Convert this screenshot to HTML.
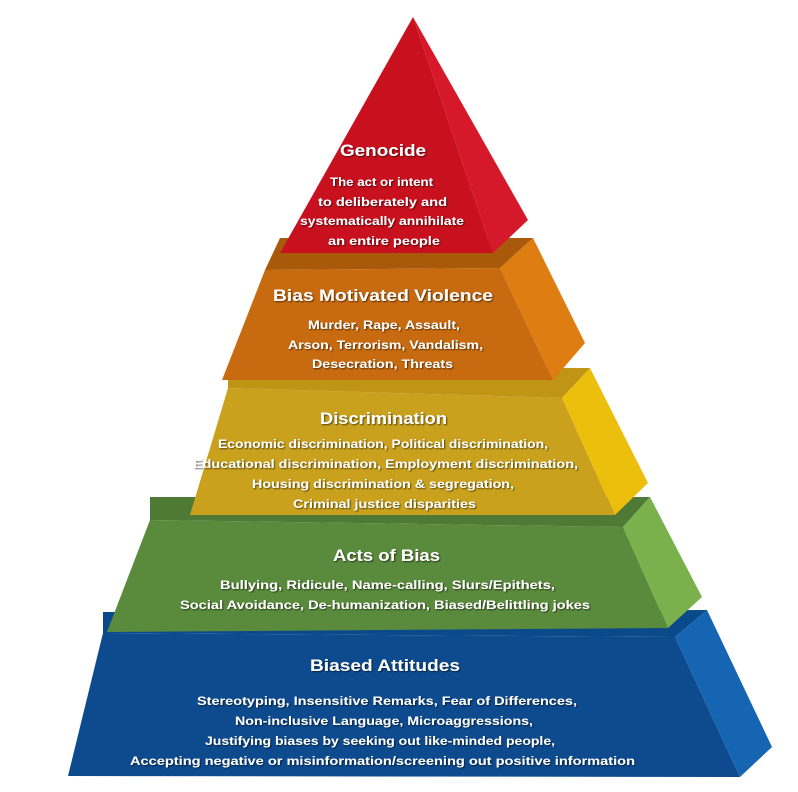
<!DOCTYPE html>
<html><head><meta charset="utf-8"><style>
html,body{margin:0;padding:0;background:#fff;}
svg{display:block;}
text{font-family:"Liberation Sans",sans-serif;font-weight:bold;fill:#fff;}
.t{font-size:17px;}
.d{font-size:12px;}
</style></head><body>
<svg width="798" height="792" viewBox="0 0 798 792">
<defs>
<filter id="s" x="-10%" y="-30%" width="120%" height="160%"><feDropShadow dx="1" dy="1" stdDeviation="0.8" flood-color="#000" flood-opacity="0.6"/></filter>
</defs>
<polygon points="103,612 707,610 675,637 103,633" fill="#0a4a8a"/>
<polygon points="103,633 675,637 740,777 68,776" fill="#0d4b8e"/>
<polygon points="675,637 707,610 772,747 740,777" fill="#1565b3"/>
<polygon points="150,497 650,497 623,527 150,520" fill="#4f7a35"/>
<polygon points="150,520 623,527 668,628 107,632" fill="#5a8a3c"/>
<polygon points="623,527 650,497 702,597 668,628" fill="#7bb14c"/>
<polygon points="228,368 590,368 562,398 228,388" fill="#c09414"/>
<polygon points="228,388 562,398 615,515 190,515" fill="#c9a11c"/>
<polygon points="562,398 590,368 648,483 615,515" fill="#ecbf0c"/>
<polygon points="280,238 533,238 500,268 265,270" fill="#a85a0a"/>
<polygon points="265,270 500,268 553,380 222,380" fill="#c86b10"/>
<polygon points="500,268 533,238 585,343 553,380" fill="#dd7d12"/>
<polygon points="413,17 493,253 280,253" fill="#c8101e"/>
<polygon points="413,17 528,220 493,253" fill="#d6192a"/>

<g filter="url(#s)">
<text class="t" x="340" y="156" textLength="86" lengthAdjust="spacingAndGlyphs">Genocide</text>
<text class="d" x="330" y="186" textLength="103" lengthAdjust="spacingAndGlyphs">The act or intent</text>
<text class="d" x="318" y="206" textLength="129" lengthAdjust="spacingAndGlyphs">to deliberately and</text>
<text class="d" x="300" y="225" textLength="164" lengthAdjust="spacingAndGlyphs">systematically annihilate</text>
<text class="d" x="328" y="245" textLength="112" lengthAdjust="spacingAndGlyphs">an entire people</text>

<text class="t" x="273" y="301" textLength="220" lengthAdjust="spacingAndGlyphs">Bias Motivated Violence</text>
<text class="d" x="308" y="329" textLength="152" lengthAdjust="spacingAndGlyphs">Murder, Rape, Assault,</text>
<text class="d" x="288" y="349" textLength="195" lengthAdjust="spacingAndGlyphs">Arson, Terrorism, Vandalism,</text>
<text class="d" x="312" y="368" textLength="141" lengthAdjust="spacingAndGlyphs">Desecration, Threats</text>

<text class="t" x="320" y="424" textLength="127" lengthAdjust="spacingAndGlyphs">Discrimination</text>
<text class="d" x="218" y="448" textLength="330" lengthAdjust="spacingAndGlyphs">Economic discrimination, Political discrimination,</text>
<text class="d" x="193" y="468" textLength="385" lengthAdjust="spacingAndGlyphs">Educational discrimination, Employment discrimination,</text>
<text class="d" x="252" y="488" textLength="262" lengthAdjust="spacingAndGlyphs">Housing discrimination &amp; segregation,</text>
<text class="d" x="293" y="508" textLength="183" lengthAdjust="spacingAndGlyphs">Criminal justice disparities</text>

<text class="t" x="333" y="561" textLength="107" lengthAdjust="spacingAndGlyphs">Acts of Bias</text>
<text class="d" x="220" y="589" textLength="335" lengthAdjust="spacingAndGlyphs">Bullying, Ridicule, Name-calling, Slurs/Epithets,</text>
<text class="d" x="180" y="609" textLength="410" lengthAdjust="spacingAndGlyphs">Social Avoidance, De-humanization, Biased/Belittling jokes</text>

<text class="t" x="310" y="671" textLength="150" lengthAdjust="spacingAndGlyphs">Biased Attitudes</text>
<text class="d" x="197" y="705" textLength="380" lengthAdjust="spacingAndGlyphs">Stereotyping, Insensitive Remarks, Fear of Differences,</text>
<text class="d" x="235" y="725" textLength="298" lengthAdjust="spacingAndGlyphs">Non-inclusive Language, Microaggressions,</text>
<text class="d" x="205" y="745" textLength="350" lengthAdjust="spacingAndGlyphs">Justifying biases by seeking out like-minded people,</text>
<text class="d" x="130" y="765" textLength="505" lengthAdjust="spacingAndGlyphs">Accepting negative or misinformation/screening out positive information</text>
</g>
</svg>
</body></html>
